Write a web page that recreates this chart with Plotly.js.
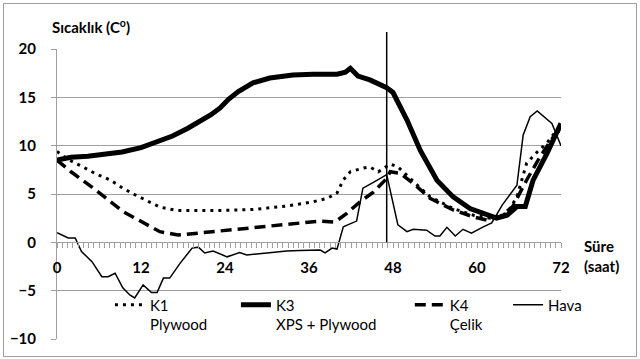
<!DOCTYPE html>
<html><head><meta charset="utf-8">
<script src="https://cdn.plot.ly/plotly-3.0.1.min.js"></script>
<style>html,body{margin:0;padding:0;background:#fff}#wrap{position:relative;width:640px;height:359px}#chart{width:640px;height:359px}#frame{position:absolute;left:3px;top:3px;width:632px;height:352px;border:1px solid #a0a0a0;pointer-events:none}</style>
</head><body><div id="wrap"><div id="chart"></div><div id="frame"></div></div>
<script>
const k1X=[0,1.5,3.7,5.5,7.6,9.2,10.9,12.8,14.7,17.1,20.4,23.3,28,32.8,36.6,38.6,40,40.9,41.9,43.8,44.7,45.9,47.6,48.7,50.9,53.3,56.6,59.5,61.9,64.3,65.7,67.1,68.6,70,71.4,72];
const k1Y=[9.4,8.6,7.8,7.1,6.45,5.7,5.0,4.3,3.65,3.3,3.3,3.3,3.4,3.75,4.2,4.55,5.1,6.45,7.3,7.7,7.8,7.3,8.1,7.8,6.3,4.7,3.5,2.8,2.5,3.0,4.7,8.2,9.35,10.3,11.6,11.4];
const k3X=[0,2,4.4,7,9.3,12,14,16.5,18.7,20.5,22,23.3,24.5,25.9,28,30.4,33.7,36.6,40,41.2,41.9,43,44.7,47.1,48,50,51.9,54.3,56.6,59,61.4,62.8,64.3,65.7,66.9,68,70,72];
const k3Y=[8.5,8.8,8.9,9.1,9.35,9.8,10.3,11.0,11.8,12.5,13.2,13.9,14.8,15.6,16.5,17.0,17.3,17.4,17.4,17.6,18.0,17.2,16.8,16.0,15.5,12.65,9.5,6.4,4.7,3.5,2.8,2.5,2.8,3.7,3.7,6.4,9.2,12.3];
const k4X=[0,2,3.7,6.1,9.4,12.3,14.7,17.3,18.7,21.1,24,28,32.8,37.6,39.7,41.4,43.3,45.2,47.1,47.6,49,50.9,53.3,56.6,59.4,61.4,63.3,65.1,67.1,69,70.9,72];
const k4Y=[8.5,7.3,6.4,5.1,3.2,2.0,1.1,0.75,0.85,1.1,1.3,1.55,1.9,2.2,2.1,3.0,4.2,5.2,6.6,7.3,7.15,6.1,4.55,3.35,2.65,2.3,2.65,3.7,6.45,8.85,10.9,11.8];
const havaX=[0,1.6,2.6,3.5,5,6.4,7.3,8.3,9.4,10.4,11.1,12.3,13.5,14.3,15.2,16.1,17.6,19.3,20.2,21.1,22.3,24.3,26.1,27.1,30,32.8,34.7,37.6,38.3,39.3,40,40.9,42.8,43.7,45.2,47.1,48.7,50,50.9,52.8,54,54.7,55.7,56.9,58,59.2,60.9,62.1,63.6,65.7,66.6,67.6,68.6,70.7,72];
const havaY=[1.0,0.45,0.45,-0.95,-2.0,-3.55,-3.55,-3.2,-4.7,-5.45,-5.75,-4.4,-5.2,-5.2,-3.7,-3.7,-2.15,-0.6,-0.5,-1.1,-0.9,-1.5,-1.05,-1.3,-1.1,-0.9,-0.85,-0.8,-1.1,-0.6,-0.7,1.6,2.2,5.6,6.2,7.0,1.8,1.1,1.35,1.25,0.65,0.65,1.55,0.65,1.35,0.95,1.6,2.0,3.85,5.9,11.1,13.0,13.6,12.3,10.0];
const seriesNames=['K1<br>Plywood','K3<br>XPS + Plywood','K4<br>Çelik','Hava'];
const xTickVals=[0,12,24,36,48,60,72];
const yTickVals=[-10,-5,0,5,10,15,20];
const markerHour=47.1;

const F='Lato, "Open Sans", sans-serif';
const gray='#a0a0a0';
const traces=[
 {x:k1X,y:k1Y,name:seriesNames[0],mode:'lines',line:{color:'#000',width:3,dash:'3px,5px'},legend:'legend'},
 {x:k3X,y:k3Y,name:seriesNames[1],mode:'lines',line:{color:'#000',width:5},legend:'legend2'},
 {x:k4X,y:k4Y,name:seriesNames[2],mode:'lines',line:{color:'#000',width:3.5,dash:'11px,6px'},legend:'legend3'},
 {x:havaX,y:havaY,name:seriesNames[3],mode:'lines',line:{color:'#000',width:1.5},legend:'legend4'}
];
const lg=(x)=>({x:x,y:0.174,xanchor:'left',yanchor:'top',bgcolor:'rgba(0,0,0,0)',font:{family:F,size:15,color:'#000'},valign:'top'});
const layout={
 width:640,height:359,
 margin:{l:57,r:79,t:49,b:20},
 paper_bgcolor:'#fff',plot_bgcolor:'#fff',
 showlegend:true,
 legend:lg(0.105),legend2:lg(0.355),legend3:lg(0.70),legend4:lg(0.895),
 xaxis:{range:[0,72],anchor:'free',position:1/3,tickvals:xTickVals,ticktext:xTickVals.map(String),
  showline:true,linecolor:gray,linewidth:1,ticks:'outside',ticklen:5,tickcolor:gray,
  minor:{dtick:0.75,tick0:0,ticks:'outside',ticklen:5,tickcolor:gray,showgrid:false},
  showgrid:false,zeroline:false,ticklabelstandoff:7,
  tickfont:{family:F,size:15,color:'#000',weight:'bold'}},
 yaxis:{range:[-10,20],tickvals:yTickVals,showgrid:true,gridcolor:gray,gridwidth:1,
  showline:true,linecolor:gray,ticks:'outside',ticklen:5,tickcolor:gray,zeroline:false,
  ticklabelstandoff:12,tickfont:{family:F,size:15,color:'#000',weight:'bold'}},
 shapes:[
  {type:'line',xref:'x',yref:'paper',x0:markerHour,x1:markerHour,y0:1/3,y1:1.0586,line:{color:'#000',width:1.5}}
 ],
 annotations:[
  {text:'Sıcaklık (C<sup>o</sup>)',xref:'paper',yref:'paper',x:-0.014,y:1.076,xanchor:'left',yanchor:'middle',showarrow:false,font:{family:F,size:15,color:'#000',weight:'bold'}},
  {text:'Süre<br>(saat)',xref:'paper',yref:'paper',x:1.042,y:0.286,xanchor:'left',yanchor:'middle',align:'left',showarrow:false,font:{family:F,size:15,color:'#000',weight:'bold'}}
 ]
};
Plotly.newPlot('chart',traces,layout,{displayModeBar:false,staticPlot:true});
</script></body></html>
